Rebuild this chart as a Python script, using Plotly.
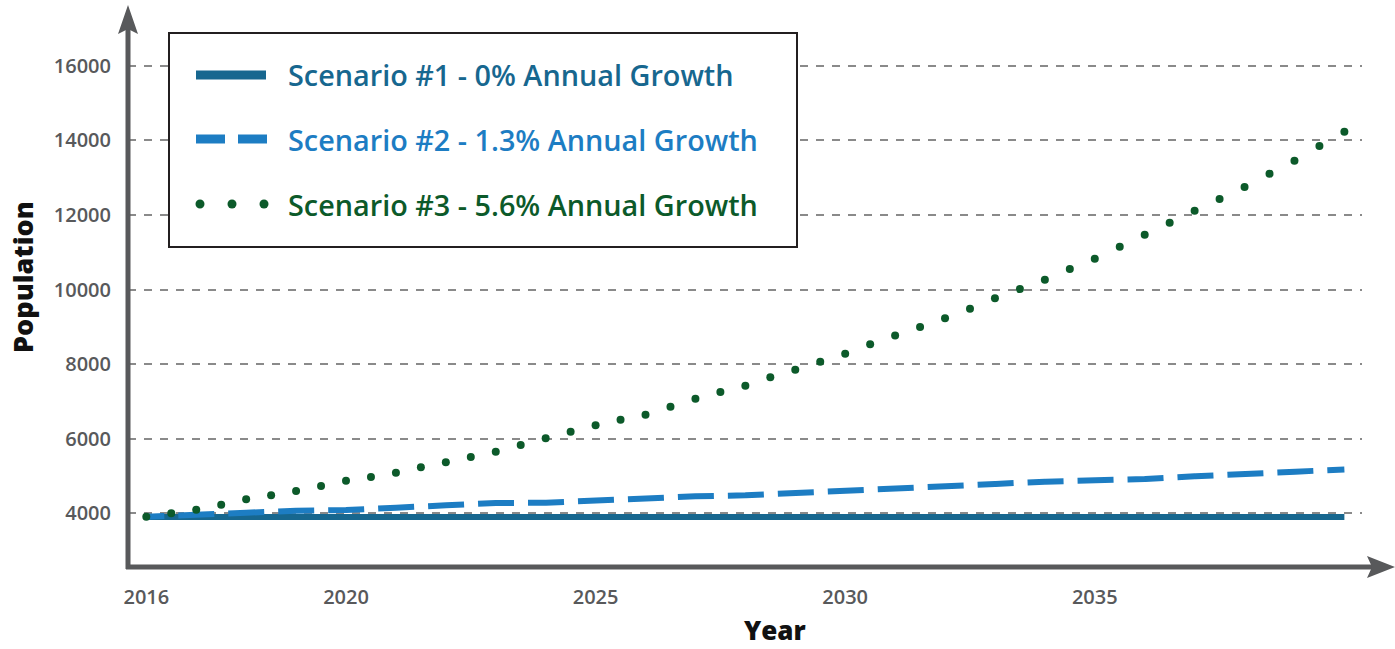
import plotly.graph_objects as go

# ---------------- data ----------------
years_annual = list(range(2016, 2041))
years_half = [2016 + 0.5 * i for i in range(49)]

scenario1 = [3900] * 25
scenario2 = [3905, 3973, 4016, 4070, 4088, 4142, 4214, 4276, 4284, 4349,
             4410, 4456, 4483, 4536, 4606, 4660, 4724, 4786, 4847, 4866,
             4920, 4992, 5054, 5107, 5175]
scenario3 = [3909, 4000, 4097, 4231, 4375, 4483, 4598, 4732, 4874, 4973,
             5088, 5233, 5367, 5509, 5651, 5831, 6011, 6188, 6359, 6509,
             6643, 6858, 7072, 7252, 7421, 7646, 7850, 8064, 8279, 8531,
             8764, 8995, 9228, 9485, 9764, 10013, 10263, 10550, 10826, 11148,
             11469, 11791, 12113, 12426, 12748, 13105, 13453, 13847, 14231]

x_tickvals = [2016, 2020, 2025, 2030, 2035]
y_tickvals = [4000, 6000, 8000, 10000, 12000, 14000, 16000]

legend_labels = ["Scenario #1 - 0% Annual Growth",
                 "Scenario #2 - 1.3% Annual Growth",
                 "Scenario #3 - 5.6% Annual Growth"]

C1 = "#17678f"
C2 = "#1d7dc3"
C3 = "#0c5a2a"
AXC = "#58595b"
FONT = "Open Sans"

# ---------------- layout geometry ----------------
W, H = 1395, 649
L, R, T, B = 128, 1362, 33, 567


def px(x):
    return (x - L) / (R - L)


def py(y):
    return (B - y) / (B - T)


fig = go.Figure()
fig.add_trace(go.Scatter(x=years_annual, y=scenario1, mode="lines",
                         line=dict(color=C1, width=6), name=legend_labels[0]))
fig.add_trace(go.Scatter(x=years_annual, y=scenario2, mode="lines",
                         line=dict(color=C2, width=6, dash="18px,14px,18px,0px"),
                         name=legend_labels[1]))
fig.add_trace(go.Scatter(x=years_half, y=scenario3, mode="markers",
                         marker=dict(color=C3, size=8, line=dict(width=0)),
                         name=legend_labels[2]))

shapes = []
# y axis line + arrow
shapes.append(dict(type="line", xref="paper", yref="paper",
                   x0=px(128), x1=px(128), y0=py(569), y1=py(28),
                   line=dict(color=AXC, width=5)))
shapes.append(dict(type="path", xref="paper", yref="paper",
                   path=f"M {px(118)},{py(34)} L {px(128)},{py(5)} L {px(138)},{py(34)} L {px(128)},{py(29)} Z",
                   fillcolor=AXC, line=dict(width=0)))
# x axis line + arrow
shapes.append(dict(type="line", xref="paper", yref="paper",
                   x0=px(126), x1=px(1372), y0=py(567), y1=py(567),
                   line=dict(color=AXC, width=5)))
shapes.append(dict(type="path", xref="paper", yref="paper",
                   path=f"M {px(1367)},{py(556)} L {px(1395)},{py(567)} L {px(1367)},{py(578)} L {px(1372)},{py(567)} Z",
                   fillcolor=AXC, line=dict(width=0)))
# legend box
shapes.append(dict(type="rect", xref="paper", yref="paper",
                   x0=px(169), x1=px(797), y0=py(247), y1=py(33),
                   fillcolor="white", line=dict(color="#231f20", width=2)))
# legend samples
shapes.append(dict(type="line", xref="paper", yref="paper",
                   x0=px(196), x1=px(266), y0=py(75), y1=py(75),
                   line=dict(color=C1, width=9)))
shapes.append(dict(type="line", xref="paper", yref="paper",
                   x0=px(196), x1=px(225), y0=py(139), y1=py(139),
                   line=dict(color=C2, width=9)))
shapes.append(dict(type="line", xref="paper", yref="paper",
                   x0=px(238), x1=px(267), y0=py(139), y1=py(139),
                   line=dict(color=C2, width=9)))
for cx in (200, 232, 264):
    shapes.append(dict(type="circle", xref="paper", yref="paper",
                       x0=px(cx - 4.5), x1=px(cx + 4.5), y0=py(204 + 4.5), y1=py(204 - 4.5),
                       fillcolor=C3, line=dict(width=0)))

annotations = []
for lab, yy, col in zip(legend_labels, (75, 139, 204), (C1, C2, C3)):
    annotations.append(dict(text=lab, xref="paper", yref="paper", x=px(286), y=py(yy),
                            xanchor="left", yanchor="middle", showarrow=False,
                            font=dict(family=FONT, size=28.8, color=col, weight=600)))
annotations.append(dict(text="Population", xref="paper", yref="paper", x=px(22), y=py(277),
                        textangle=-90, xanchor="center", yanchor="middle", showarrow=False,
                        font=dict(family=FONT, size=27, color="#111111", weight=800)))
annotations.append(dict(text="Year", xref="paper", yref="paper", x=px(775), y=py(630),
                        xanchor="center", yanchor="middle", showarrow=False,
                        font=dict(family=FONT, size=26, color="#111111", weight=800)))

fig.update_layout(
    width=W, height=H,
    margin=dict(l=L, r=W - R, t=T, b=H - B, pad=0),
    paper_bgcolor="white", plot_bgcolor="white",
    showlegend=False,
    shapes=shapes, annotations=annotations,
    xaxis=dict(range=[2015.633, 2040.353], tickvals=x_tickvals,
               ticktext=[str(v) for v in x_tickvals],
               showgrid=False, zeroline=False, showline=False, ticks="",
               ticklabelstandoff=16,
               tickfont=dict(family=FONT, size=20, color=AXC, weight=600)),
    yaxis=dict(range=[2560, 16877], tickvals=y_tickvals,
               ticktext=[str(v) for v in y_tickvals],
               showgrid=True, gridcolor="#8a8a8a", gridwidth=1.5, griddash="8px,8px",
               zeroline=False, showline=False, ticks="",
               ticklabelstandoff=16,
               tickfont=dict(family=FONT, size=20, color=AXC, weight=600)),
)

fig.write_html("out.html")
